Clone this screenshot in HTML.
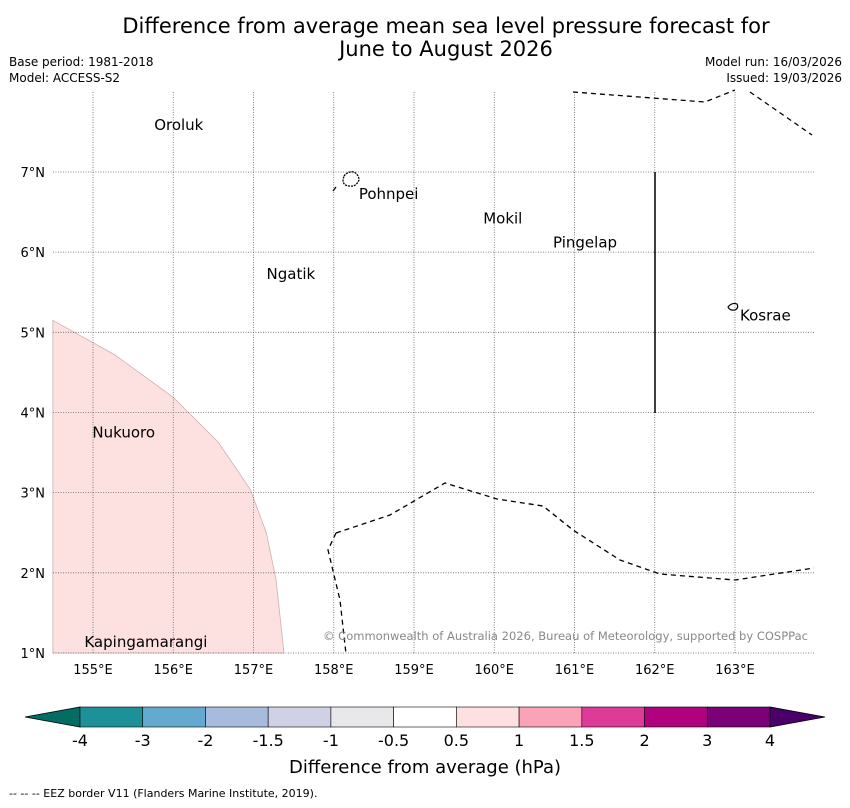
<!DOCTYPE html>
<html><head><meta charset="utf-8"><style>
body{margin:0;background:#fff;font-family:"DejaVu Sans","Liberation Sans",sans-serif;}
svg text{font-family:"DejaVu Sans","Liberation Sans",sans-serif;}
</style></head><body>
<svg id="c" width="850" height="804" xmlns="http://www.w3.org/2000/svg">
<text x="446" y="33" font-size="21" text-anchor="middle">Difference from average mean sea level pressure forecast for</text>
<text x="446" y="56" font-size="21" text-anchor="middle">June to August 2026</text>
<text x="9" y="66" font-size="12">Base period: 1981-2018</text>
<text x="9" y="82" font-size="12">Model: ACCESS-S2</text>
<text x="842" y="66" font-size="12" text-anchor="end">Model run: 16/03/2026</text>
<text x="842" y="82" font-size="12" text-anchor="end">Issued: 19/03/2026</text>
<g id="map"></g>
<g id="cb"></g>
<text x="425" y="773" font-size="18" text-anchor="middle">Difference from average (hPa)</text>
<text x="9" y="797" font-size="11">--  --  -- EEZ border V11 (Flanders Marine Institute, 2019).</text>
</svg>
<script>
const lonTicks=[155,156,157,158,159,160,161,162,163];
const latTicks=[1,2,3,4,5,6,7];
const places=["Oroluk","Pohnpei","Mokil","Pingelap","Ngatik","Kosrae","Nukuoro","Kapingamarangi"];
const placeLon=[155.75,158.3,159.85,160.72,157.15,163.05,154.98,154.88];
const placeLat=[7.6,6.74,6.43,6.13,5.74,5.22,3.76,1.15];
const anomLon=[154.5,155.27,156.0,156.56,156.96,157.16,157.28,157.38];
const anomLat=[5.15,4.72,4.19,3.63,3.04,2.5,1.92,1.0];
const cbBounds=["-4","-3","-2","-1.5","-1","-0.5","0.5","1","1.5","2","3","4"];
const cbColors=["#1e9098","#63a9d0","#a7bcdc","#d0d0e6","#e8e7ea","#ffffff","#fde0e0","#fba2b6","#de3a97","#b0027f","#7a0177"];
const X=l=>93+(l-155)*80.25, Y=l=>653-(l-1)*80.17;
const NS="http://www.w3.org/2000/svg";
function mk(p,t,a){const e=document.createElementNS(NS,t);for(const k in a)e.setAttribute(k,a[k]);p.appendChild(e);return e;}
const m=document.getElementById('map');
let pts=anomLon.map((l,i)=>X(l)+","+Y(anomLat[i])).join(" ")+" "+X(154.5)+","+Y(1.0);
const poly=mk(m,'polygon',{points:pts,fill:'#fde0e0',stroke:'#d0b0b0','stroke-width':0.8});


lonTicks.forEach(l=>{const g=mk(m,'line',{x1:X(l),x2:X(l),y1:92,y2:654,stroke:'#666','stroke-width':0.8,'stroke-dasharray':'1,1.5'});


const t=mk(m,'text',{x:X(l),y:674,'font-size':13,'text-anchor':'middle'});t.textContent=l+"°E";

});
latTicks.forEach(l=>{const g=mk(m,'line',{x1:53,x2:814,y1:Y(l),y2:Y(l),stroke:'#666','stroke-width':0.8,'stroke-dasharray':'1,1.5'});


const t=mk(m,'text',{x:45,y:Y(l)+5,'font-size':13,'text-anchor':'end'});t.textContent=l+"°N";

});
[["573,92 705,102 735,90"],["750,92 812,135"],["336,533 390,515 445,483 497,499 543,506 573,530 620,560 660,574 735,580 814,568"],["336,533 328,550 340,600 346,654"],["333,191 336,187"]].forEach(p=>{
const e=mk(m,'polyline',{points:p[0],fill:'none',stroke:'#000','stroke-width':1.3,'stroke-dasharray':'5,4'});

});
const sl=mk(m,'line',{x1:655,x2:655,y1:172,y2:413,stroke:'#000','stroke-width':1.5});


const isl1=mk(m,'path',{d:'M344,176 q4,-5 10,-4 q5,3 5,8 q-3,7 -9,6 q-7,0 -7,-6z',fill:'none',stroke:'#000','stroke-width':1.3,'stroke-dasharray':'2,1'});


const isl2=mk(m,'path',{d:'M728,307 q4,-5 9,-3 q2,4 -2,6 q-5,1 -7,-3z',fill:'none',stroke:'#000','stroke-width':1.2});


places.forEach((p,i)=>{const t=mk(m,'text',{x:X(placeLon[i])+1,y:Y(placeLat[i])+6,'font-size':15});t.textContent=p;

});
const cp=mk(m,'text',{x:808,y:640,'font-size':11.5,'text-anchor':'end',fill:'#888',textLength:485});cp.textContent="© Commonwealth of Australia 2026, Bureau of Meteorology, supported by COSPPac";


const cb=document.getElementById('cb');const x0=80,w=690/11,y0=707,h=20;
const l=mk(cb,'polygon',{points:`25,717 ${x0},${y0} ${x0},${y0+h}`,fill:'#046d63',stroke:'#000','stroke-width':0.8});


const r=mk(cb,'polygon',{points:`825,717 ${x0+w*11},${y0} ${x0+w*11},${y0+h}`,fill:'#4a0068',stroke:'#000','stroke-width':0.8});


cbColors.forEach((c,i)=>{const b=mk(cb,'rect',{x:x0+i*w,y:y0,width:w,height:h,fill:c,stroke:'#000','stroke-width':0.6});

});
cbBounds.forEach((s,i)=>{const t=mk(cb,'text',{x:x0+i*w,y:746,'font-size':16,'text-anchor':'middle'});t.textContent=s;

});
</script>
</body></html>
